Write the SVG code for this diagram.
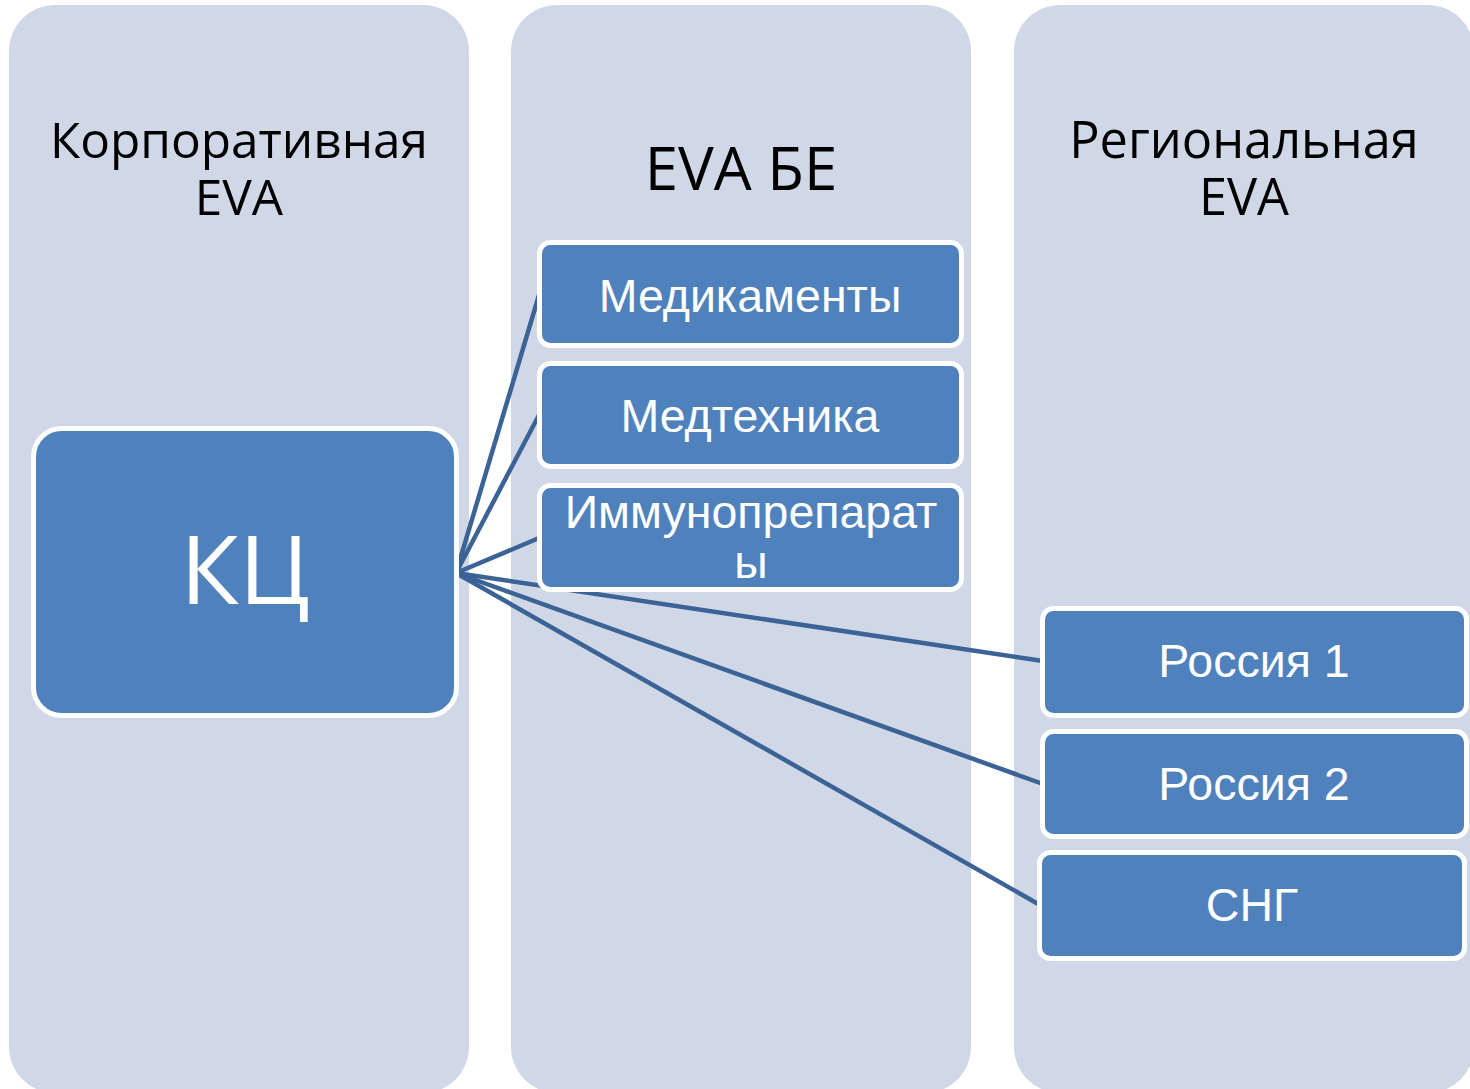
<svg xmlns="http://www.w3.org/2000/svg" width="1470" height="1089" viewBox="0 0 1470 1089">
<style>
.panel{fill:#D0D8E7}
.box{fill:#4F81BD;stroke:#FFFFFF;stroke-width:5}
.head{font-family:"Open Sans","Noto Sans",sans-serif;fill:#000;text-anchor:middle}
.lbl{font-family:"Liberation Sans",Arial,sans-serif;fill:#FFF;text-anchor:middle;font-size:46.5px}
.conn{stroke:#3C6395;stroke-width:4.5;fill:none}
</style>
<rect width="1470" height="1089" fill="#FFFFFF"/>
<g id="panel-corp"><rect class="panel" x="9" y="5" width="460" height="1088" rx="46"/>
<text class="head" font-size="49.5" x="239"><tspan x="239" y="158">Корпоративная</tspan><tspan x="239" y="215">EVA</tspan></text></g>
<g id="panel-be"><rect class="panel" x="511" y="5" width="460" height="1088" rx="46"/>
<text class="head" font-size="60" x="741" y="190">EVA БЕ</text></g>
<g id="panel-reg"><rect class="panel" x="1014" y="5" width="460" height="1088" rx="46"/>
<text class="head" font-size="50.5" x="1244"><tspan x="1244" y="158">Региональная</tspan><tspan x="1244" y="215">EVA</tspan></text></g>
<g id="connectors">
<line class="conn" x1="456" y1="573" x2="539" y2="295"/>
<line class="conn" x1="456" y1="573" x2="539" y2="415"/>
<line class="conn" x1="456" y1="573" x2="539" y2="538"/>
<line class="conn" x1="456" y1="573" x2="1043" y2="661"/>
<line class="conn" x1="456" y1="573" x2="1043" y2="784"/>
<line class="conn" x1="456" y1="573" x2="1040" y2="905"/>
</g>
<g id="node-kc"><rect class="box" x="33.5" y="428.5" width="423" height="287" rx="28"/>
<text class="head" font-size="96" x="245" y="604" style="fill:#FFF">КЦ</text></g>
<g id="node-med"><rect class="box" x="539.5" y="242.5" width="422" height="103" rx="11"/>
<text class="lbl" x="750" y="312">Медикаменты</text></g>
<g id="node-medtech"><rect class="box" x="539.5" y="363.5" width="422" height="103" rx="11"/>
<text class="lbl" x="750" y="432">Медтехника</text></g>
<g id="node-immuno"><rect class="box" x="539.5" y="485.5" width="422" height="104" rx="11"/>
<text class="lbl"><tspan x="751" y="528">Иммунопрепарат</tspan><tspan x="751" y="578">ы</tspan></text></g>
<g id="node-ru1"><rect class="box" x="1042.5" y="608.5" width="424" height="107" rx="11"/>
<text class="lbl" x="1254" y="677">Россия 1</text></g>
<g id="node-ru2"><rect class="box" x="1042.5" y="731.5" width="424" height="105" rx="11"/>
<text class="lbl" x="1254" y="800">Россия 2</text></g>
<g id="node-sng"><rect class="box" x="1039.5" y="852.5" width="425" height="106" rx="11"/>
<text class="lbl" x="1252" y="921">СНГ</text></g>
</svg>
